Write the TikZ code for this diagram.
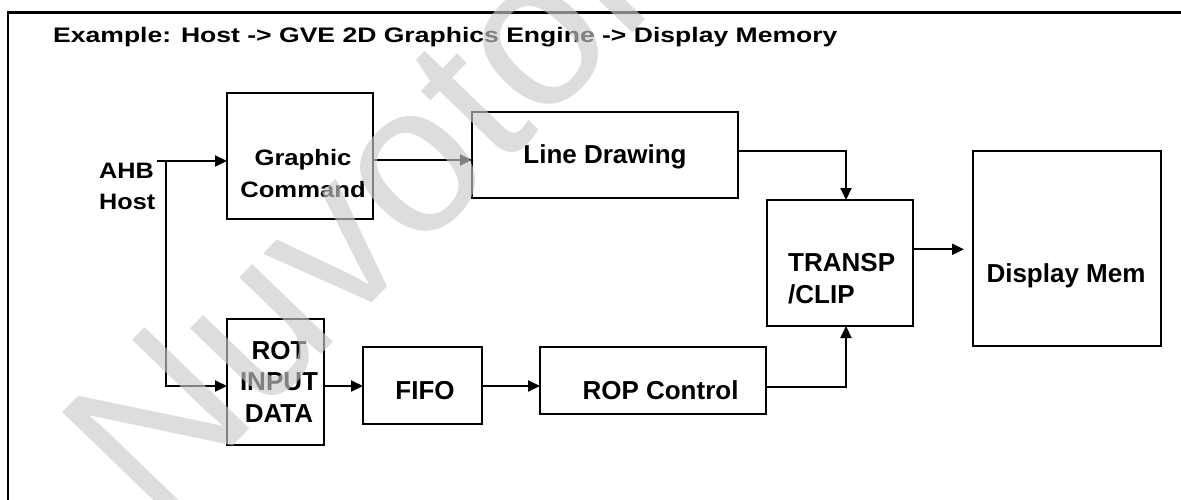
\documentclass[tikz,border=0pt]{standalone}
\usepackage{fontspec}
\setmainfont{Liberation Sans}
\usepackage{graphicx}
\usetikzlibrary{arrows.meta}
\definecolor{wmgray}{RGB}{202,202,202}
\begin{document}
\begin{tikzpicture}[x=1pt,y=-1pt,
  box/.style={draw=black, line width=2pt, inner sep=0pt, outer sep=0pt},
  arr/.style={line width=2pt, -{Triangle[length=12pt,width=11pt]}},
  lbl/.style={inner sep=0pt, anchor=base, font=\bfseries\fontsize{26}{31.5}\selectfont},
  slbl/.style={inner sep=0pt, anchor=base, font=\bfseries\fontsize{22.3}{31.5}\selectfont}]
  \path[use as bounding box] (0,0) rectangle (1181,500);
  \clip (0,0) rectangle (1181,500);

  % outer frame
  \draw[line width=2.8pt] (8,510) -- (8,12.5) -- (1190,12.5);

  % title
  \node[inner sep=0pt, anchor=base west, font=\bfseries\fontsize{21}{25}\selectfont] (title) at (53,43)
    {\scalebox{1.264}[1]{Example: Host -> GVE 2D Graphics Engine -> Display Memory}};

  % blocks
  \node[box, minimum width=146pt, minimum height=126pt] (gc)   at (300,156)    {};
  \node[box, minimum width=266pt, minimum height=86pt]  (ld)   at (605,155)    {};
  \node[box, minimum width=146pt, minimum height=126pt] (tr)   at (840,263)    {};
  \node[box, minimum width=188pt, minimum height=195pt] (dm)   at (1067,248.5) {};
  \node[box, minimum width=97pt,  minimum height=126pt] (rot)  at (275.5,382)  {};
  \node[box, minimum width=119pt, minimum height=77pt]  (fifo) at (422.5,385.5) {};
  \node[box, minimum width=226pt, minimum height=67pt]  (rop)  at (653,380.5)  {};

  % block labels
  \node[slbl, anchor=base west] (ahb) at (99,178.3)
    {\scalebox{1.13}[1]{\begin{tabular}[t]{@{}l@{}}AHB\\Host\end{tabular}}};
  \node[slbl] (gct) at (303,165.7)
    {\scalebox{1.15}[1]{\begin{tabular}[t]{@{}c@{}}Graphic\\Command\end{tabular}}};
  \node[lbl] (ldt) at (605,163.3) {Line Drawing};
  \node[lbl, anchor=base west] (trt) at (788,271.7)
    {\begin{tabular}[t]{@{}l@{}}TRANSP\\/CLIP\end{tabular}};
  \node[lbl] (dmt) at (1066,282) {Display Mem};
  \node[lbl] (rott) at (279,359.3)
    {\begin{tabular}[t]{@{}c@{}}ROT\\INPUT\\DATA\end{tabular}};
  \node[lbl] (fifot) at (425,399) {FIFO};
  \node[lbl] (ropt) at (660.5,399) {ROP Control};

  % connector guide points
  \coordinate (ahbin) at (157,161);
  \coordinate (split) at (165.7,161);
  \coordinate (upper) at (0,160);
  \coordinate (row)   at (0,386);
  \coordinate (ropout) at (0,386.7);
  \coordinate (ldout) at (0,151);
  \coordinate (vx)    at (846,0);
  \coordinate (dmin)  at (964,249.3);

  % connectors
  \draw[arr] (ahbin) -- (ahbin -| gc.west);
  \draw[arr] (split) |- (rot.west |- row);
  \draw[arr] (gc.east |- upper) -- (ld.west |- upper);
  \draw[arr] (rot.east |- row) -- (fifo.west |- row);
  \draw[arr] (fifo.east |- row) -- (rop.west |- row);
  \draw[arr] (ld.east |- ldout) -| (vx |- tr.north);
  \draw[arr] (rop.east |- ropout) -| (vx |- tr.south);
  \draw[arr] (tr.east |- dmin) -- (dmin);

  % watermark
  \node[rotate=46, inner sep=0pt, text=wmgray, text opacity=0.64,
        font=\fontsize{212}{212}\selectfont] (wm) at (378,193) {Nuvoton};
\end{tikzpicture}
\end{document}
